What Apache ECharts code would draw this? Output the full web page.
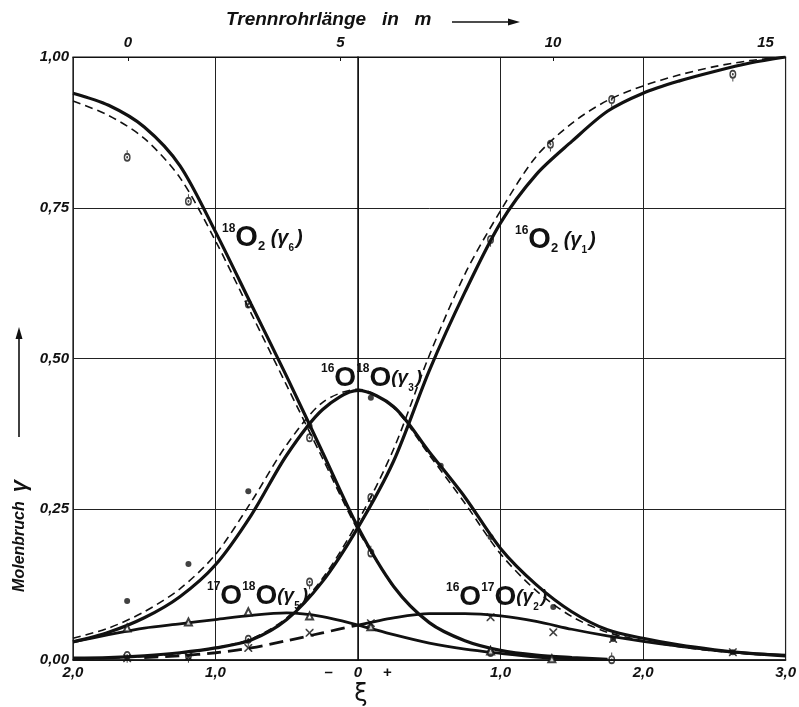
<!DOCTYPE html>
<html>
<head>
<meta charset="utf-8">
<script src="https://cdn.jsdelivr.net/npm/echarts@6/dist/echarts.min.js"></script>
<style>
html, body { margin: 0; padding: 0; background: #fff; }
#chart { width: 799px; height: 707px; }
</style>
</head>
<body>
<div id="chart"></div>
<script>
// xi grid for the drawn curves
var xiGrid = [-2, -1.75, -1.5, -1.25, -1, -0.75, -0.5, -0.25, 0, 0.25, 0.5, 0.75, 1, 1.25, 1.5, 1.75, 2, 2.25, 2.5, 2.75, 3];

// solid (measured) and dashed (calculated) curves
var o16o2Solid   = [0.003, 0.004, 0.007, 0.012, 0.02, 0.033, 0.067, 0.13, 0.22, 0.33, 0.48, 0.61, 0.725, 0.805, 0.86, 0.91, 0.94, 0.96, 0.976, 0.99, 1.0];
var o16o2Dash    = [0.002, 0.003, 0.006, 0.011, 0.02, 0.035, 0.07, 0.135, 0.23, 0.35, 0.505, 0.64, 0.745, 0.835, 0.89, 0.928, 0.952, 0.97, 0.984, 0.994, 1.0];
var o18o2Solid   = [0.94, 0.92, 0.884, 0.82, 0.71, 0.59, 0.47, 0.345, 0.22, 0.122, 0.062, 0.032, 0.016, 0.008, 0.004, 0.001, null, null, null, null, null];
var o18o2Dash    = [0.927, 0.903, 0.865, 0.80, 0.695, 0.575, 0.455, 0.335, 0.215, 0.12, null, null, null, null, null, null, null, null, null, null, null];
var o16o18oSolid = [0.03, 0.046, 0.07, 0.105, 0.158, 0.24, 0.34, 0.415, 0.447, 0.42, 0.345, 0.27, 0.185, 0.125, 0.08, 0.05, 0.036, 0.025, 0.017, 0.011, 0.007];
var o16o18oDash  = [0.036, 0.053, 0.08, 0.118, 0.175, 0.262, 0.357, 0.427, 0.449, 0.418, 0.34, 0.26, 0.176, 0.115, 0.072, 0.046, 0.032, 0.022, 0.015, 0.01, 0.007];
var o17o18oSolid = [0.03, 0.042, 0.053, 0.06, 0.067, 0.074, 0.078, 0.072, 0.058, 0.042, 0.028, 0.018, 0.011, 0.005, 0.002, 0.0005, null, null, null, null, null];
var o16o17oDash  = [null, null, 0.004, 0.007, 0.012, 0.02, 0.032, 0.045, 0.058, null, null, null, null, null, null, null, null, null, null, null, null];
var o16o17oSolid = [null, null, null, null, null, null, null, null, 0.058, 0.07, 0.077, 0.077, 0.073, 0.064, 0.051, 0.04, 0.031, 0.023, 0.016, 0.011, 0.008];

// measured points
var o18o2PtsX = [-1.62, -1.19, -0.77, -0.34, 0.09, 0.93, 1.78];
var o18o2PtsY = [0.833, 0.76, 0.59, 0.368, 0.177, 0.012, 0.0];
var o16o2PtsX = [-1.62, -1.19, -0.77, -0.34, 0.09, 0.93, 1.35, 1.78, 2.63];
var o16o2PtsY = [0.008, 0.008, 0.035, 0.13, 0.27, 0.698, 0.856, 0.93, 0.972];
var o16o18oPtsX = [-1.62, -1.19, -0.77, -0.34, 0.09, 0.58, 0.93, 1.37, 1.79, 2.63];
var o16o18oPtsY = [0.098, 0.159, 0.28, 0.388, 0.435, 0.322, 0.204, 0.088, 0.035, 0.013];
var o17o18oPtsX = [-1.62, -1.19, -0.77, -0.34, 0.09, 0.93, 1.36];
var o17o18oPtsY = [0.053, 0.063, 0.08, 0.073, 0.055, 0.015, 0.002];
var o16o17oPtsX = [-1.62, -1.19, -0.77, -0.34, 0.09, 0.93, 1.37, 1.79, 2.63];
var o16o17oPtsY = [0.003, 0.005, 0.02, 0.045, 0.061, 0.071, 0.046, 0.035, 0.013];

// tick labels
var yTicks = [0, 0.25, 0.5, 0.75, 1.0];
var lengthTicks = [0, 5, 10, 15];

var INK = '#111';
var FONT = 'Liberation Sans';

function pairs(xs, ys) {
	var out = [];
	for (var i = 0; i < xs.length; i++) {
		if (ys[i] != null) out.push([xs[i], ys[i]]);
	}
	return out;
}

function curve(name, vals, dashed, width) {
	return {
		name: name,
		type: 'line',
		smooth: 0.3,
		symbol: 'none',
		silent: true,
		data: pairs(xiGrid, vals),
		lineStyle: {
			color: INK,
			width: width,
			type: dashed ? [8, 5] : 'solid'
		},
		z: dashed ? 2 : 3
	};
}

// ring with centre dot and a little stem (measured points of 16O2 / 18O2)
var ringDown = 'path://M0,5A5,5 0 1,1 10,5A5,5 0 1,1 0,5Z M2,5A3,3 0 1,0 8,5A3,3 0 1,0 2,5Z M3.6,5A1.4,1.4 0 1,1 6.4,5A1.4,1.4 0 1,1 3.6,5Z M4.3,9.5L5.7,9.5L5.7,13L4.3,13Z';
var ringUp = 'path://M0,8A5,5 0 1,1 10,8A5,5 0 1,1 0,8Z M2,8A3,3 0 1,0 8,8A3,3 0 1,0 2,8Z M3.6,8A1.4,1.4 0 1,1 6.4,8A1.4,1.4 0 1,1 3.6,8Z M4.3,0L5.7,0L5.7,3.5L4.3,3.5Z';
var cross = 'path://M0,0L1.4,0L5,3.6L8.6,0L10,0L10,1.4L6.4,5L10,8.6L10,10L8.6,10L5,6.4L1.4,10L0,10L0,8.6L3.6,5L0,1.4Z';

function points(name, xs, ys, symbol, size, border, offset) {
	return {
		name: name,
		type: 'scatter',
		silent: true,
		symbol: symbol,
		symbolSize: size,
		symbolKeepAspect: true,
		symbolOffset: offset || [0, 0],
		data: pairs(xs, ys),
		itemStyle: { color: INK, borderColor: INK, borderWidth: border },
		z: 5
	};
}

function makeRich(big, par) {
	return {
		sup: { fontSize: 12, fontWeight: 'bold', fontFamily: FONT, color: INK, verticalAlign: 'top', lineHeight: 12 },
		big: { fontSize: big, fontWeight: 'bold', fontFamily: FONT, color: INK, lineHeight: 30 },
		sub: { fontSize: 13, fontWeight: 'bold', fontFamily: FONT, color: INK, verticalAlign: 'bottom', lineHeight: 13 },
		par: { fontSize: par, fontStyle: 'italic', fontWeight: 'bold', fontFamily: FONT, color: INK, lineHeight: 30 },
		idx: { fontSize: 10, fontWeight: 'bold', fontFamily: FONT, color: INK, verticalAlign: 'bottom', lineHeight: 12, padding: [0, 2, 0, 0] }
	};
}
var richSingle = makeRich(29, 20);
var richDouble = makeRich(28, 19);

function speciesLabel(x, y, txt, rich) {
	return {
		type: 'text',
		x: x,
		y: y,
		silent: true,
		style: { text: txt, rich: rich, fill: INK, align: 'left', verticalAlign: 'middle' },
		z: 10
	};
}

var numLabel = { color: INK, fontSize: 15, fontWeight: 'bold', fontStyle: 'italic', fontFamily: FONT };

var chart = echarts.init(document.getElementById('chart'), null, { renderer: 'canvas' });

var option = {
	backgroundColor: '#fff',
	animation: false,
	grid: {
		left: 73, right: 12, top: 57, bottom: 47,
		show: true, borderColor: INK, borderWidth: 1.2, backgroundColor: 'transparent'
	},
	xAxis: [{
		type: 'value',
		position: 'bottom',
		min: -2, max: 3, interval: 1,
		axisLine: { show: true, lineStyle: { color: INK, width: 1.5 } },
		axisTick: { show: false },
		splitLine: { show: true, lineStyle: { color: '#222', width: 1 } },
		axisLabel: Object.assign({
			margin: 5,
			showMinLabel: true,
			showMaxLabel: true,
			formatter: function (v) {
				if (v === 0) return '–     0     +';
				return Math.abs(v).toFixed(1).replace('.', ',');
			}
		}, numLabel)
	}, {
		type: 'value',
		position: 'top',
		min: -1.29, max: 15.47,
		axisLine: { show: true, lineStyle: { color: INK, width: 1.2 } },
		axisTick: { show: true, inside: true, length: 4, customValues: lengthTicks, lineStyle: { color: INK } },
		splitLine: { show: false },
		axisLabel: Object.assign({ margin: 7, customValues: lengthTicks }, numLabel)
	}],
	yAxis: [{
		type: 'value',
		min: 0, max: 1, interval: 0.25,
		axisLine: { show: true, lineStyle: { color: INK, width: 1.5 } },
		axisTick: { show: true, length: 3, lineStyle: { color: INK } },
		splitLine: { show: true, lineStyle: { color: '#222', width: 1 } },
		axisLabel: Object.assign({
			margin: 4,
			formatter: function (v) { return v.toFixed(2).replace('.', ','); }
		}, numLabel)
	}],
	series: [
		curve('16O2 berechnet', o16o2Dash, true, 1.6),
		curve('18O2 berechnet', o18o2Dash, true, 1.6),
		curve('16O18O berechnet', o16o18oDash, true, 1.6),
		curve('16O2', o16o2Solid, false, 3.2),
		curve('18O2', o18o2Solid, false, 3.2),
		curve('16O18O', o16o18oSolid, false, 3.2),
		curve('17O18O', o17o18oSolid, false, 2.8),
		{
			name: '16O17O links', type: 'line', smooth: 0.3, symbol: 'none', silent: true,
			data: pairs(xiGrid, o16o17oDash),
			lineStyle: { color: INK, width: 2.8, type: [14, 7] }, z: 3
		},
		curve('16O17O', o16o17oSolid, false, 2.8),
		points('18O2 Punkte', o18o2PtsX, o18o2PtsY, ringUp, [9, 11.7], 0, [0, -1.7]),
		points('16O2 Punkte', o16o2PtsX, o16o2PtsY, ringDown, [9, 11.7], 0, [0, 1.7]),
		points('16O18O Punkte', o16o18oPtsX, o16o18oPtsY, 'circle', 6, 0),
		points('17O18O Punkte', o17o18oPtsX, o17o18oPtsY, 'emptyTriangle', 7, 1.2),
		points('16O17O Punkte', o16o17oPtsX, o16o17oPtsY, cross, 8, 0)
	],
	graphic: [
		// species labels
		speciesLabel(222, 238, '{sup|18}{big|O}{sub|2}{par| (γ}{idx|6}{par|)}', richSingle),
		speciesLabel(515, 240, '{sup|16}{big|O}{sub|2}{par| (γ}{idx|1}{par|)}', richSingle),
		speciesLabel(321, 378, '{sup|16}{big|O}{sup|18}{big|O}{par|(γ}{idx|3}{par|)}', richDouble),
		speciesLabel(207, 596, '{sup|17}{big|O}{sup|18}{big|O}{par|(γ}{idx|5}{par|)}', richDouble),
		speciesLabel(446, 597, '{sup|16}{big|O}{sup|17}{big|O}{par|(γ}{idx|2}{par|)}', richDouble),
		// top axis title with arrow
		{
			type: 'text', x: 226, y: 20, silent: true,
			style: { text: 'Trennrohrlänge   in   m', fill: INK, fontSize: 19, fontWeight: 'bold', fontStyle: 'italic', fontFamily: FONT, verticalAlign: 'middle' }
		},
		{ type: 'line', silent: true, shape: { x1: 452, y1: 22, x2: 512, y2: 22 }, style: { stroke: INK, lineWidth: 1.6 } },
		{ type: 'polygon', silent: true, shape: { points: [[520, 22], [508, 18.5], [508, 25.5]] }, style: { fill: INK } },
		// y axis title with arrow
		{
			type: 'text', x: 20, y: 536, rotation: Math.PI / 2, silent: true,
			style: { text: 'Molenbruch  {g|γ}', fill: INK, fontSize: 16, fontWeight: 'bold', fontStyle: 'italic', fontFamily: FONT, align: 'center', verticalAlign: 'middle',
				rich: { g: { fontSize: 22, fontWeight: 'bold', fontStyle: 'italic', fontFamily: FONT, fill: INK } } }
		},
		{ type: 'line', silent: true, shape: { x1: 19, y1: 437, x2: 19, y2: 336 }, style: { stroke: INK, lineWidth: 1.6 } },
		{ type: 'polygon', silent: true, shape: { points: [[19, 327], [15.5, 339], [22.5, 339]] }, style: { fill: INK } },
		// xi axis name
		{
			type: 'text', x: 361, y: 695, silent: true,
			style: { text: 'ξ', fill: INK, fontSize: 24, fontFamily: 'DejaVu Sans', align: 'center', verticalAlign: 'middle' }
		}
	]
};

chart.setOption(option);
</script>
</body>
</html>
